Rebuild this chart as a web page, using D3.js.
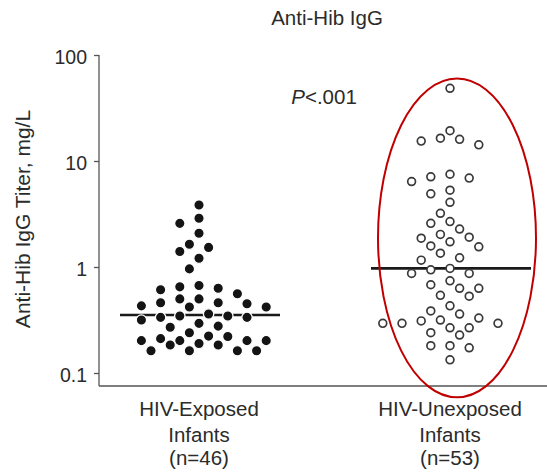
<!DOCTYPE html>
<html>
<head>
<meta charset="utf-8">
<script src="https://cdn.jsdelivr.net/npm/d3@7"></script>
<style>
  body { margin: 0; background: #fff; }
  text { font-family: "Liberation Sans", Arial, Helvetica, sans-serif; fill: #2b2b2b; }
</style>
</head>
<body>
<svg id="chart" width="547" height="476"></svg>
<script>
// Anti-Hib IgG titres (mg/L), one value per infant
const groupNames = ["HIV-Exposed", "HIV-Unexposed"];
const groupSubtitle = "Infants";

const exposedTiters = [
  3.85, 2.88, 2.58, 2.08, 1.64, 1.53, 1.40, 1.21, 0.96,
  0.67, 0.65, 0.63, 0.61, 0.56,
  0.50, 0.50, 0.46, 0.46, 0.45, 0.43, 0.42, 0.42,
  0.36, 0.345, 0.345, 0.335, 0.335, 0.316,
  0.294, 0.277, 0.27,
  0.24, 0.223, 0.221, 0.211, 0.202, 0.202, 0.202, 0.202,
  0.19, 0.184, 0.184,
  0.162, 0.162, 0.162, 0.162
];

const unexposedTiters = [
  48.5,
  19.3, 16.4, 16.0, 15.4, 14.2,
  7.5, 7.1, 6.9, 6.4,
  5.3, 4.9, 4.08, 3.21,
  2.68, 2.58, 2.28, 2.03,
  1.91, 1.87, 1.73, 1.58, 1.55, 1.35,
  1.22, 1.16,
  0.97, 0.94, 0.87, 0.87,
  0.74, 0.68, 0.63, 0.63, 0.54, 0.53,
  0.43, 0.385, 0.36, 0.33, 0.316,
  0.31, 0.294, 0.294, 0.294,
  0.267, 0.267, 0.24, 0.228,
  0.181, 0.181, 0.173,
  0.133
];

const tickValues = [0.1, 1, 10, 100];
const tickLabels = ["0.1", "1", "10", "100"];
const chartTitle = "Anti-Hib IgG";
const yTitle = "Anti-Hib IgG Titer, mg/L";
const pLabel = { italic: "P", rest: "<.001" };

const seriesList = [exposedTiters, unexposedTiters];

const svg = d3.select("#chart");
const W = 547;
const axisX = 99, axisBottom = 386;
const fontSize = 20.5;

const y = d3.scaleLog().domain([0.1, 100]).range([373, 55]);
const x = d3.scalePoint().domain(groupNames).range([199, 450]);

// ---- axes ----
const axisG = svg.append("g").attr("transform", `translate(${axisX},0)`);
axisG.call(
  d3.axisLeft(y)
    .tickValues(tickValues)
    .tickFormat((d, i) => tickLabels[i])
    .tickSize(5)
    .tickPadding(7)
);
axisG.select(".domain").remove();
axisG.selectAll(".tick line").attr("stroke", "#555").attr("stroke-width", 1.3);
axisG.selectAll(".tick text")
  .attr("font-size", 19.5)
  .attr("dy", "0.45em")
  .style("font-family", "'Liberation Sans', Arial, sans-serif")
  .attr("fill", "#2b2b2b");

svg.append("line")
  .attr("x1", axisX).attr("x2", axisX)
  .attr("y1", y(100)).attr("y2", axisBottom)
  .attr("stroke", "#555").attr("stroke-width", 1.3);
svg.append("line")
  .attr("x1", axisX).attr("x2", W)
  .attr("y1", axisBottom).attr("y2", axisBottom)
  .attr("stroke", "#555").attr("stroke-width", 1.3);

// ---- dot swarm layout: values sorted high to low, each dot takes the
// grid column nearest the group centre that keeps it clear of the others;
// columns are limited to +/-7, and when none is clear the roomiest one wins
const colStep = 9.6, minDist = 12, maxSlot = 7;
function swarm(values, cx) {
  const placed = [];
  const slots = [0];
  for (let s = 1; s <= maxSlot; s++) slots.push(-s, s);
  values.slice().sort((a, b) => b - a).forEach(v => {
    const py = y(v);
    let best = null, bestGap = -1;
    for (const slot of slots) {
      const px = cx + slot * colStep;
      const gap = placed.length
        ? d3.min(placed, p => Math.hypot(p.x - px, p.y - py))
        : Infinity;
      if (gap >= minDist) { best = px; break; }
      if (gap > bestGap) { bestGap = gap; best = px; }
    }
    placed.push({ x: best, y: py, v });
  });
  return placed;
}

// ---- medians ----
const medianHalf = 80;
seriesList.forEach((vals, i) => {
  const cx = x(groupNames[i]);
  const m = d3.median(vals);
  svg.append("line")
    .attr("x1", cx + 1 - medianHalf).attr("x2", cx + 1 + medianHalf)
    .attr("y1", y(m)).attr("y2", y(m))
    .attr("stroke", "#1a1a1a").attr("stroke-width", 2.6);
});

// ---- dots ----
svg.append("g").selectAll("circle")
  .data(swarm(exposedTiters, x(groupNames[0])))
  .join("circle")
  .attr("cx", d => d.x).attr("cy", d => d.y)
  .attr("r", 5.2)
  .attr("fill", "#141414")
  .attr("stroke", "#fff").attr("stroke-width", 1.3);

svg.append("g").selectAll("circle")
  .data(swarm(unexposedTiters, x(groupNames[1])))
  .join("circle")
  .attr("cx", d => d.x).attr("cy", d => d.y)
  .attr("r", 3.9)
  .attr("fill", "#fff")
  .attr("stroke", "#3a3a3a").attr("stroke-width", 1.7);

// ---- highlight ellipse round the unexposed group ----
const ellTop = y(60), ellBottom = y(0.059);
svg.append("ellipse")
  .attr("cx", x(groupNames[1]) + 7)
  .attr("cy", (ellTop + ellBottom) / 2)
  .attr("rx", 79)
  .attr("ry", (ellBottom - ellTop) / 2)
  .attr("fill", "none")
  .attr("stroke", "#c00000")
  .attr("stroke-width", 2);

// ---- text ----
svg.append("text")
  .attr("x", 327).attr("y", 25)
  .attr("text-anchor", "middle")
  .attr("font-size", fontSize)
  .text(chartTitle);

const pText = svg.append("text")
  .attr("x", 324).attr("y", 104)
  .attr("text-anchor", "middle")
  .attr("font-size", fontSize);
pText.append("tspan").attr("font-style", "italic").text(pLabel.italic);
pText.append("tspan").text(pLabel.rest);

svg.append("text")
  .attr("transform", "translate(30,219) rotate(-90)")
  .attr("text-anchor", "middle")
  .attr("font-size", 21)
  .text(yTitle);

const labelBaselines = [416, 442, 465];
groupNames.forEach((g, i) => {
  const lines = [g, groupSubtitle, `(n=${seriesList[i].length})`];
  lines.forEach((t, j) => {
    svg.append("text")
      .attr("x", x(g)).attr("y", labelBaselines[j])
      .attr("text-anchor", "middle")
      .attr("font-size", fontSize)
      .text(t);
  });
});
</script>
</body>
</html>
